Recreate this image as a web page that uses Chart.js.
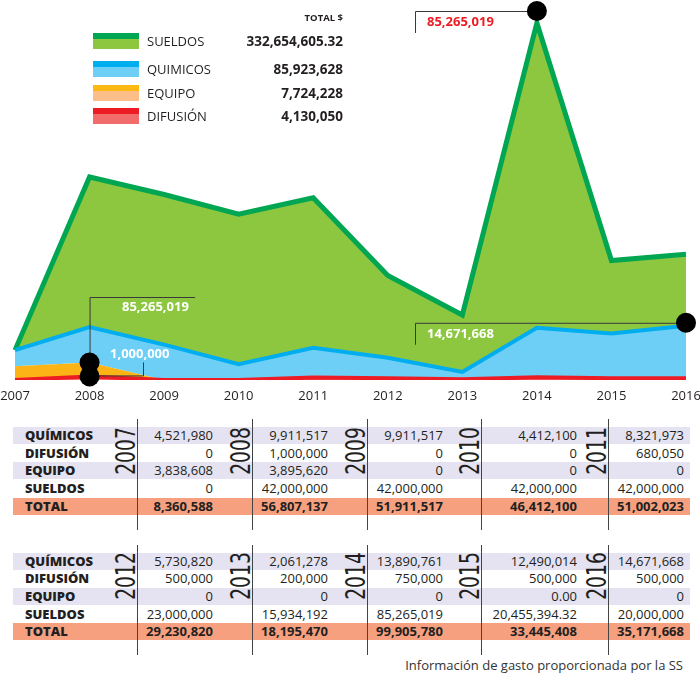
<!DOCTYPE html>
<html><head><meta charset="utf-8">
<script src="https://cdn.jsdelivr.net/npm/chart.js@4/dist/chart.umd.min.js"></script>
<style>
body{margin:0;background:#fff;}
#wrap{position:relative;width:700px;height:676px;overflow:hidden;font-family:'Open Sans',sans-serif;color:#231f20;background:#fff;}
#c{position:absolute;left:0;top:0;}
.abs{position:absolute;white-space:nowrap;}
</style></head><body>
<div id="wrap"><canvas id="c" width="700" height="410"></canvas></div>
<script>
// ---------------- DATA ----------------
const years = ['2007','2008','2009','2010','2011','2012','2013','2014','2015','2016'];
const quimicos = [4521980, 9911517, 9911517, 4412100, 8321973, 5730820, 2061278, 13890761, 12490014, 14671668];
const difusion = [0, 1000000, 0, 0, 680050, 500000, 200000, 750000, 500000, 500000];
const equipo   = [3838608, 3895620, 0, 0, 0, 0, 0, 0, 0, 0];
const sueldos  = [0, 42000000, 42000000, 42000000, 42000000, 23000000, 15934192, 85265019, 20455394.32, 20000000];
const totals   = [8360588, 56807137, 51911517, 46412100, 51002023, 29230820, 18195470, 99905780, 33445408, 35171668];
const legendNames  = ['SUELDOS', 'QUIMICOS', 'EQUIPO', 'DIFUSIÓN'];
const legendTotals = [332654605.32, 85923628, 7724228, 4130050];
const rowLabels = ['QUÍMICOS', 'DIFUSIÓN', 'EQUIPO', 'SUELDOS', 'TOTAL'];
const twoDecimalCells = [['EQUIPO', '2015']];
const annotSueldosPeak = 85265019;   // label shown at the 2014 peak
const annotQuim2016 = 14671668;      // label shown at 2016
const annotDif2008 = 1000000;        // label shown at 2008

// ---------------- HELPERS ----------------
const fmt = (v, dp) => v.toLocaleString('en-US', {minimumFractionDigits: dp, maximumFractionDigits: dp});
const wrap = document.getElementById('wrap');
function addDiv(css, text) {
  const d = document.createElement('div');
  d.className = 'abs';
  d.style.cssText = css;
  if (text !== undefined) d.textContent = text;
  wrap.appendChild(d);
  return d;
}

// ---------------- LEGEND ----------------
const swDark  = ['#00a651', '#00aeef', '#fdb913', '#ed1c24'];
const swLight = ['#8dc63f', '#6dcff6', '#fdbf8a', '#f26c6c'];
const legTops = [33, 61, 85, 108];
addDiv('right:357px;top:11px;height:14px;line-height:14px;font-size:9.5px;font-weight:700;', 'TOTAL $');
legendNames.forEach((n, i) => {
  const t = legTops[i];
  addDiv(`left:93px;top:${t}px;width:46px;height:6px;background:${swDark[i]};`);
  addDiv(`left:93px;top:${t + 6}px;width:46px;height:10px;background:${swLight[i]};`);
  addDiv(`left:147px;top:${t}px;height:16px;line-height:16px;font-size:13px;`, n);
  const dp = Number.isInteger(legendTotals[i]) ? 0 : 2;
  addDiv(`right:357px;top:${t}px;height:16px;line-height:16px;font-size:13.5px;font-weight:700;`, fmt(legendTotals[i], dp));
});

// ---------------- TABLE ----------------
const rowSeries = [quimicos, difusion, equipo, sueldos, totals];
const colLines = [137, 252, 367, 481, 608];
const valRight = [213, 328, 443, 577, 684];
const blocks = [
  {start: 0, rowTop: 427, lineTop: 419, lineBottom: 530, yearCy: 451},
  {start: 5, rowTop: 552.5, lineTop: 545, lineBottom: 655, yearCy: 576}
];
const pitch = 17.7;
blocks.forEach(b => {
  rowLabels.forEach((lab, r) => {
    const top = b.rowTop + r * pitch;
    if (r === 0 || r === 2) addDiv(`left:13px;top:${top}px;width:677px;height:17px;background:#e5e3f1;`);
    if (r === 4) addDiv(`left:13px;top:${top}px;width:677px;height:17px;background:#f6a07f;`);
  });
  colLines.forEach(x => addDiv(`left:${x}px;top:${b.lineTop}px;width:1px;height:${b.lineBottom - b.lineTop}px;background:#444;`));
  rowLabels.forEach((lab, r) => {
    const top = b.rowTop + r * pitch;
    addDiv(`left:25px;top:${top}px;height:17px;line-height:17px;font-size:13px;font-weight:800;`, lab);
    for (let c = 0; c < 5; c++) {
      const yi = b.start + c;
      const v = rowSeries[r][yi];
      let dp = Number.isInteger(v) ? 0 : 2;
      if (twoDecimalCells.some(([rl, y]) => rl === lab && y === years[yi])) dp = 2;
      addDiv(`right:${700 - valRight[c]}px;top:${top}px;height:17px;line-height:17px;font-size:13px;${r === 4 ? 'font-weight:700;' : ''}`, fmt(v, dp));
    }
  });
  for (let c = 0; c < 5; c++) {
    addDiv(`left:${colLines[c] - 11}px;top:${b.yearCy}px;font-family:'Liberation Sans Narrow','DejaVu Sans Condensed',sans-serif;font-size:26px;line-height:26px;transform:translate(-50%,-50%) rotate(-90deg) scaleX(0.8);`, years[b.start + c]);
  }
});
addDiv('right:17px;top:656px;height:18px;line-height:18px;font-size:13px;color:#333;', 'Información de gasto proporcionada por la SS');

// ---------------- CHART ----------------
Chart.defaults.font.family = "'Open Sans', sans-serif";
const stackTop = years.map((_, i) => quimicos[i] + difusion[i] + equipo[i] + sueldos[i]);
const yMax = Math.max(...stackTop);

const annot = {
  id: 'annot',
  afterDatasetsDraw(chart) {
    const ctx = chart.ctx;
    const iPeak = sueldos.indexOf(annotSueldosPeak);
    const iQ = quimicos.indexOf(annotQuim2016);
    const iD = difusion.indexOf(annotDif2008);
    const pPeak = chart.getDatasetMeta(3).data[iPeak];
    const pQ = chart.getDatasetMeta(2).data[iQ];
    const pE = chart.getDatasetMeta(1).data[iD];
    const pD = chart.getDatasetMeta(0).data[iD];
    ctx.save();
    ctx.strokeStyle = '#3a3a3a';
    ctx.lineWidth = 1;
    const circle = (x, y) => { ctx.beginPath(); ctx.arc(x, y, 10, 0, Math.PI * 2); ctx.fillStyle = '#000'; ctx.fill(); };
    const path = pts => { ctx.beginPath(); pts.forEach((p, k) => k ? ctx.lineTo(p[0], p[1]) : ctx.moveTo(p[0], p[1])); ctx.stroke(); };
    ctx.font = "700 13px 'Open Sans', sans-serif";
    ctx.textBaseline = 'middle';
    ctx.textAlign = 'left';
    // peak 2014
    const cy1 = pPeak.y - 12;
    path([[415.5, cy1 + 22], [415.5, cy1 + 0.5], [pPeak.x, cy1 + 0.5]]);
    ctx.fillStyle = '#ed1c24';
    ctx.fillText(fmt(annotSueldosPeak, 0), 427, cy1 + 11);
    circle(pPeak.x, cy1);
    // 2016 quimicos
    const cy2 = pQ.y - 3;
    path([[415.5, cy2 + 22], [415.5, cy2 + 0.5], [pQ.x, cy2 + 0.5]]);
    ctx.fillStyle = '#fff';
    ctx.fillText(fmt(annotQuim2016, 0), 427, cy2 + 12);
    circle(pQ.x, cy2);
    // 2008 sueldos label (white)
    path([[pE.x + 0.5, pE.y], [pE.x + 0.5, 297.5], [195, 297.5]]);
    ctx.fillStyle = '#fff';
    ctx.fillText(fmt(annotSueldosPeak, 0), 122, 307);
    // 2008 difusion
    path([[pD.x, pD.y - 0.5], [143.5, pD.y - 0.5], [143.5, pD.y - 14]]);
    ctx.fillStyle = '#fff';
    ctx.fillText(fmt(annotDif2008, 0), 110, 354);
    circle(pE.x, pE.y);
    circle(pD.x, pD.y);
    ctx.restore();
  }
};

new Chart(document.getElementById('c'), {
  type: 'line',
  data: {
    labels: years,
    datasets: [
      {label: 'DIFUSIÓN', data: difusion, fill: 'origin', backgroundColor: '#f47a7a', borderColor: '#ed1c24', borderWidth: 4},
      {label: 'EQUIPO', data: equipo, fill: '-1', backgroundColor: '#fcb316', borderColor: '#fcb316', borderWidth: 0},
      {label: 'QUIMICOS', data: quimicos, fill: '-1', backgroundColor: '#6dcff6', borderColor: '#00aeef', borderWidth: 4},
      {label: 'SUELDOS', data: sueldos, fill: '-1', backgroundColor: '#8dc63f', borderColor: '#00a651', borderWidth: 5, clip: false}
    ]
  },
  options: {
    responsive: false,
    animation: false,
    layout: {padding: {left: 0, right: 0, top: 23, bottom: 0}},
    elements: {point: {radius: 0, hoverRadius: 0}, line: {tension: 0, borderJoinStyle: 'miter'}},
    plugins: {legend: {display: false}, tooltip: {enabled: false}},
    scales: {
      x: {
        grid: {display: false, drawTicks: false},
        border: {display: false},
        ticks: {color: '#231f20', font: {size: 13}, padding: 8, maxRotation: 0, autoSkip: false},
        afterFit: s => { s.height = 30; s.paddingLeft = 15; s.paddingRight = 14; }
      },
      y: {display: false, stacked: true, min: 0, max: yMax}
    }
  },
  plugins: [annot]
});
</script>
</body></html>
